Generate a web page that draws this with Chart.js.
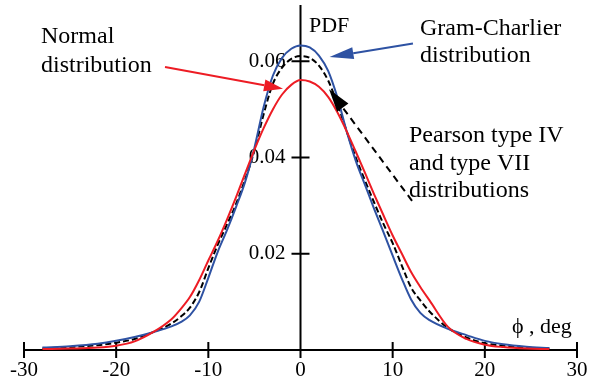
<!DOCTYPE html>
<html><head><meta charset="utf-8">
<script src="https://cdn.jsdelivr.net/npm/chart.js@4/dist/chart.umd.min.js"></script>
<style>html,body{margin:0;padding:0;background:#fff}canvas{display:block}</style>
</head><body>
<canvas id="c" width="597" height="383"></canvas>
<script>
// angle phi (deg) sample points
const phi = [-28,-25,-22,-20,-18,-16,-14,-13,-12,-11,-10,-9,-8,-7,-6,-5,-4,-3,-2,-1,0,1,2,3,4,5,6,7,8,9,10,11,12,13,14,16,18,20,22,24.5,27];
// Normal distribution PDF
const normalPdf = [0.0002,0.0003,0.0005,0.0009,0.0018,0.0037,0.0064,0.0085,0.0110,0.0145,0.0186,0.0226,0.0270,0.0317,0.0367,0.0416,0.0461,0.0500,0.0531,0.0551,0.0561,0.0558,0.0547,0.0526,0.0494,0.0455,0.0412,0.0368,0.0323,0.0280,0.0238,0.0200,0.0162,0.0131,0.0103,0.0048,0.0023,0.0011,0.0006,0.0003,0.0002];
// Gram-Charlier distribution PDF
const gramCharlierPdf = [0.0005,0.0008,0.0013,0.0019,0.0027,0.0037,0.0049,0.0058,0.0072,0.0100,0.0150,0.0203,0.0248,0.0297,0.0350,0.0420,0.0505,0.0570,0.0607,0.0626,0.0633,0.0629,0.0612,0.0580,0.0525,0.0455,0.0393,0.0343,0.0293,0.0245,0.0196,0.0148,0.0105,0.0077,0.0062,0.0044,0.0031,0.0019,0.0012,0.0007,0.0004];
// Pearson type IV and type VII distributions PDF
const pearsonPdf = [0.0003,0.0006,0.0010,0.0015,0.0023,0.0037,0.0055,0.0069,0.0088,0.0120,0.0170,0.0218,0.0260,0.0303,0.0355,0.0414,0.0490,0.0553,0.0587,0.0605,0.0611,0.0607,0.0591,0.0560,0.0512,0.0455,0.0400,0.0352,0.0306,0.0262,0.0222,0.0175,0.0130,0.0103,0.0080,0.0046,0.0026,0.0014,0.0009,0.0005,0.0003];
const xTicks = [-30,-20,-10,0,10,20,30];
const xTickLabels = ['-30','-20','-10','0','10','20','30'];
const yTicks = [0.02,0.04,0.06];
const yTickLabels = ['0.02','0.04','0.06'];

const RED = 'rgb(237,28,36)';
const BLUE = 'rgb(46,82,163)';
const SERIF = '"Liberation Serif","Times New Roman",serif';

function pts(ys){ return phi.map((x,i)=>({x:x,y:ys[i]})); }

function arrowHead(ctx, x1, y1, x2, y2, len, hw, color){
  const a = Math.atan2(y2-y1, x2-x1);
  const bx = x2 - len*Math.cos(a), by = y2 - len*Math.sin(a);
  ctx.beginPath();
  ctx.moveTo(x2,y2);
  ctx.lineTo(bx + hw*Math.sin(a), by - hw*Math.cos(a));
  ctx.lineTo(bx - hw*Math.sin(a), by + hw*Math.cos(a));
  ctx.closePath();
  ctx.fillStyle = color; ctx.fill();
  return {bx, by};
}

const axesPlugin = {
  id:'axesPlugin',
  beforeDatasetsDraw(chart){
    const ctx = chart.ctx, xs = chart.scales.x, ys = chart.scales.y;
    const x0 = xs.getPixelForValue(0), y0 = ys.getPixelForValue(0);
    ctx.save();
    ctx.strokeStyle = '#000'; ctx.lineWidth = 2;
    ctx.beginPath();
    ctx.moveTo(xs.getPixelForValue(xTicks[0]), y0);
    ctx.lineTo(xs.getPixelForValue(xTicks[xTicks.length-1]), y0);
    ctx.moveTo(x0, chart.chartArea.top);
    ctx.lineTo(x0, y0);
    xTicks.forEach(v=>{ const p = xs.getPixelForValue(v); ctx.moveTo(p, y0-8); ctx.lineTo(p, y0+8); });
    yTicks.forEach(v=>{ const p = ys.getPixelForValue(v); ctx.moveTo(x0-9, p); ctx.lineTo(x0+9, p); });
    ctx.stroke();
    ctx.fillStyle = '#000';
    ctx.font = '21px ' + SERIF;
    ctx.textAlign = 'center'; ctx.textBaseline = 'alphabetic';
    xTicks.forEach((v,i)=>{ ctx.fillText(xTickLabels[i], xs.getPixelForValue(v), y0+26); });
    ctx.textAlign = 'right'; ctx.textBaseline = 'middle';
    yTicks.forEach((v,i)=>{ ctx.fillText(yTickLabels[i], x0-15, ys.getPixelForValue(v)); });
    ctx.restore();
  },
  afterDatasetsDraw(chart){
    const ctx = chart.ctx, xs = chart.scales.x, ys = chart.scales.y;
    const P = (x,y)=>[xs.getPixelForValue(x), ys.getPixelForValue(y)];
    ctx.save();
    ctx.fillStyle = '#000';
    ctx.textAlign = 'left'; ctx.textBaseline = 'alphabetic';
    ctx.font = '22px ' + SERIF;
    ctx.fillText('PDF', 309, 32);
    ctx.fillText('\u03D5 , deg', 512, 333);
    ctx.font = '24px ' + SERIF;
    ctx.fillText('Normal', 41, 43);
    ctx.fillText('distribution', 41, 72);
    ctx.fillText('Gram-Charlier', 420, 35);
    ctx.fillText('distribution', 420, 62);
    ctx.fillText('Pearson type IV', 409, 142);
    ctx.fillText('and type VII', 409, 170);
    ctx.fillText('distributions', 409, 197);

    // red arrow
    let [ax,ay] = P(-14.7, 0.0588), [tx,ty] = P(-1.9, 0.0543);
    let b = arrowHead(ctx, ax, ay, tx, ty, 19, 6, RED);
    ctx.strokeStyle = RED; ctx.lineWidth = 2;
    ctx.beginPath(); ctx.moveTo(ax,ay); ctx.lineTo(b.bx,b.by); ctx.stroke();
    // blue arrow
    [ax,ay] = P(12.2, 0.0637); [tx,ty] = P(3.15, 0.0609);
    b = arrowHead(ctx, ax, ay, tx, ty, 24, 6, BLUE);
    ctx.strokeStyle = BLUE;
    ctx.beginPath(); ctx.moveTo(ax,ay); ctx.lineTo(b.bx,b.by); ctx.stroke();
    // black dashed arrow
    [ax,ay] = P(12.1, 0.0310); [tx,ty] = P(3.1, 0.0542);
    b = arrowHead(ctx, ax, ay, tx, ty, 23, 7, '#000');
    ctx.strokeStyle = '#000'; ctx.setLineDash([7,5]);
    ctx.beginPath(); ctx.moveTo(ax,ay); ctx.lineTo(b.bx,b.by); ctx.stroke();
    ctx.restore();
  }
};

new Chart(document.getElementById('c'), {
  type:'line',
  data:{ datasets:[
    {label:'Normal distribution', data:pts(normalPdf), borderColor:RED, borderWidth:2, pointRadius:0, cubicInterpolationMode:'monotone', fill:false},
    {label:'Gram-Charlier distribution', data:pts(gramCharlierPdf), borderColor:BLUE, borderWidth:2, pointRadius:0, cubicInterpolationMode:'monotone', fill:false},
    {label:'Pearson type IV and type VII distributions', data:pts(pearsonPdf), borderColor:'#000', borderWidth:2, borderDash:[6,3], pointRadius:0, cubicInterpolationMode:'monotone', fill:false}
  ]},
  options:{
    responsive:false, animation:false, devicePixelRatio:1,
    layout:{padding:{left:24, right:20, top:5, bottom:33}},
    plugins:{legend:{display:false}, tooltip:{enabled:false}},
    scales:{
      x:{type:'linear', min:-30, max:30, display:false},
      y:{type:'linear', min:0, max:0.0717, display:false}
    }
  },
  plugins:[axesPlugin]
});
</script>
</body></html>
